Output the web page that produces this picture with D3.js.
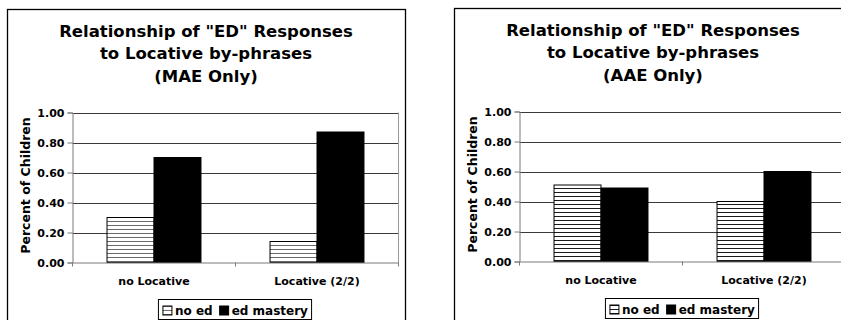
<!DOCTYPE html>
<html>
<head>
<meta charset="utf-8">
<script src="https://cdn.jsdelivr.net/npm/d3@7"></script>
<style>
  html, body { margin: 0; padding: 0; background: #fff; }
  svg { display: block; font-family: "DejaVu Sans", Verdana, sans-serif; font-weight: bold; }
</style>
</head>
<body>
<svg id="chart" width="841" height="320"></svg>
<script>
// Categories, series and values for the two panels
const categories = ["no Locative", "Locative (2/2)"];
const seriesNames = ["no ed", "ed mastery"];
const maeNoEd = [0.30, 0.14];
const maeEdMastery = [0.70, 0.87];
const aaeNoEd = [0.51, 0.40];
const aaeEdMastery = [0.49, 0.60];
const yTickValues = [0, 0.2, 0.4, 0.6, 0.8, 1.0];
const maeTitle = ['Relationship of "ED" Responses', 'to Locative by-phrases', '(MAE Only)'];
const aaeTitle = ['Relationship of "ED" Responses', 'to Locative by-phrases', '(AAE Only)'];
const yAxisTitle = "Percent of Children";

const svg = d3.select("#chart");
const defs = svg.append("defs");

// Horizontal-line hatch used for the "no ed" series
function hatch(id, color) {
  const p = defs.append("pattern")
    .attr("id", id)
    .attr("patternUnits", "userSpaceOnUse")
    .attr("width", 8).attr("height", 4);
  p.append("rect").attr("width", 8).attr("height", 4).attr("fill", "#fff");
  p.append("line").attr("x1", 0).attr("x2", 8).attr("y1", 0.5).attr("y2", 0.5)
    .attr("stroke", color).attr("stroke-width", 1);
}
hatch("hatchA", "#6a6a6a");
hatch("hatchB", "#1a1a1a");

function drawPanel(fx, fy, titleLines, noEd, edMastery, hatchId) {
  const g = svg.append("g").attr("transform", `translate(${fx},${fy})`);

  // outer frame
  g.append("rect")
    .attr("x", 0.5).attr("y", 0.5)
    .attr("width", 398).attr("height", 330)
    .attr("fill", "#fff").attr("stroke", "#000").attr("stroke-width", 1.3);

  // title
  const cx = 199;
  g.append("text")
    .attr("text-anchor", "middle")
    .attr("font-size", 16.5)
    .selectAll("tspan").data(titleLines).join("tspan")
    .attr("x", cx)
    .attr("y", (d, i) => 28 + i * 22.3)
    .text(d => d);

  const plotLeft = 65.5, plotWidth = 326;
  const plotTop = 103.5, plotHeight = 150;

  const x = d3.scaleBand().domain(categories)
    .range([plotLeft, plotLeft + plotWidth]).padding(0);
  const xs = d3.scaleBand().domain(seriesNames)
    .range([0, x.bandwidth()]).paddingInner(0).paddingOuter(0.735);
  const y = d3.scaleLinear().domain([0, 1]).range([plotTop + plotHeight, plotTop]);

  // gridlines
  g.append("g").selectAll("line").data(yTickValues.filter(v => v > 0)).join("line")
    .attr("x1", plotLeft).attr("x2", plotLeft + plotWidth)
    .attr("y1", d => Math.round(y(d)) + 0.5).attr("y2", d => Math.round(y(d)) + 0.5)
    .attr("stroke", "#3a3a3a").attr("stroke-width", 1);

  // right border of plot area
  g.append("line")
    .attr("x1", plotLeft + plotWidth).attr("x2", plotLeft + plotWidth)
    .attr("y1", plotTop).attr("y2", plotTop + plotHeight)
    .attr("stroke", "#9a9a9a");

  // bars
  const rows = categories.map((c, i) => [
    { cat: c, s: seriesNames[0], v: noEd[i] },
    { cat: c, s: seriesNames[1], v: edMastery[i] }
  ]).flat();
  g.append("g").selectAll("rect").data(rows).join("rect")
    .attr("x", d => x(d.cat) + xs(d.s))
    .attr("width", xs.bandwidth())
    .attr("y", d => y(d.v))
    .attr("height", d => y(0) - y(d.v))
    .attr("fill", d => d.s === seriesNames[0] ? `url(#${hatchId})` : "#000")
    .attr("stroke", "#000").attr("stroke-width", 1);

  // y axis
  const yAxis = g.append("g")
    .attr("transform", `translate(${plotLeft},0)`)
    .call(d3.axisLeft(y).tickValues(yTickValues).tickFormat(d3.format(".2f")).tickSize(5).tickPadding(3));
  yAxis.selectAll("path, line").attr("stroke", "#7a7a7a");
  yAxis.selectAll("text").attr("font-size", 11).attr("font-family", "DejaVu Sans").attr("font-weight", "bold").attr("fill", "#000");

  // x axis
  const xAxis = g.append("g")
    .attr("transform", `translate(0,${plotTop + plotHeight})`)
    .call(d3.axisBottom(x).tickSize(0).tickSizeOuter(0).tickFormat(""));
  xAxis.select("path").attr("stroke", "#7a7a7a");
  xAxis.selectAll(".tick").remove();
  // category boundary ticks
  g.append("g").selectAll("line")
    .data([...categories.map(c => x(c)), plotLeft + plotWidth]).join("line")
    .attr("x1", d => d).attr("x2", d => d)
    .attr("y1", plotTop + plotHeight).attr("y2", plotTop + plotHeight + 4)
    .attr("stroke", "#7a7a7a");

  // category labels
  g.append("g").selectAll("text").data(categories).join("text")
    .attr("x", d => x(d) + x.bandwidth() / 2)
    .attr("y", 276)
    .attr("text-anchor", "middle")
    .attr("font-size", 11)
    .text(d => d);

  // y axis title
  g.append("text")
    .attr("transform", `translate(23,${plotTop + plotHeight / 2 - 2}) rotate(-90)`)
    .attr("text-anchor", "middle")
    .attr("font-size", 12.5)
    .text(yAxisTitle);

  // legend
  const lg = g.append("g");
  const items = lg.selectAll("g").data(seriesNames).join("g");
  items.append("rect")
    .attr("width", 9).attr("height", 9)
    .attr("fill", (d, i) => i === 0 ? `url(#${hatchId})` : "#000")
    .attr("stroke", "#000").attr("stroke-width", 1);
  items.append("text")
    .attr("x", 12).attr("y", 9)
    .attr("font-size", 12)
    .text(d => d);
  let offset = 0;
  items.each(function () {
    const w = this.getBBox().width;
    d3.select(this).attr("transform", `translate(${offset},0)`);
    offset += w + 7;
  });
  const legendW = offset - 7 + 8;
  const lx = plotLeft + plotWidth / 2 - legendW / 2;
  lg.attr("transform", `translate(${lx + 4},${297})`);
  lg.insert("rect", ":first-child")
    .attr("x", -4.5).attr("y", -6.5)
    .attr("width", legendW).attr("height", 20)
    .attr("fill", "#fff").attr("stroke", "#000").attr("stroke-width", 1);
}

drawPanel(7, 9, maeTitle, maeNoEd, maeEdMastery, "hatchA");
drawPanel(454, 8, aaeTitle, aaeNoEd, aaeEdMastery, "hatchB");
</script>
</body>
</html>
